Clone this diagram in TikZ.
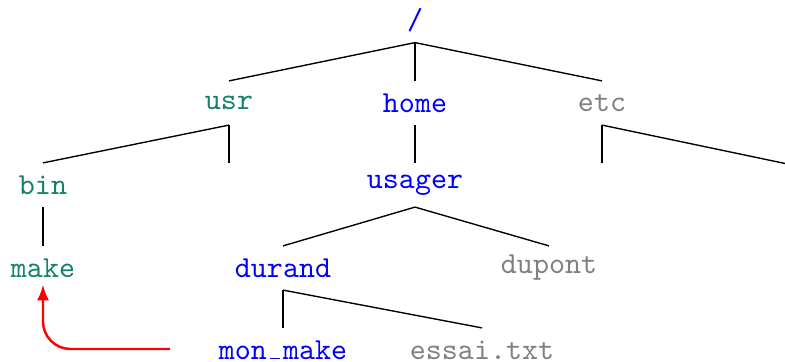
\documentclass[tikz,border=0pt]{standalone}
\usetikzlibrary{arrows.meta}
\definecolor{dirgreen}{RGB}{20,130,105}
\definecolor{dirblue}{RGB}{0,0,255}
\definecolor{dirgray}{RGB}{128,128,128}
\newcommand{\ttunder}{\makebox[0.525em]{\rule{0.3em}{0.5pt}}}
\begin{document}
\begin{tikzpicture}[x=0.328pt, y=-0.328pt,
  entry/.style={inner sep=0pt, minimum height=14.1pt, font=\ttfamily},
  sys/.style={entry, text=dirgreen},
  mine/.style={entry, text=dirblue},
  other/.style={entry, text=dirgray},
  branch/.style={black, line width=0.45pt},
  link/.style={red, line width=0.8pt, rounded corners=9pt,
    -{Latex[length=5.2pt,width=4pt]}}]
  \useasboundingbox (0,0) rectangle (785,362);

  % directory names
  \node[mine]  (root)   at (415,20.5) {/};
  \node[sys]   (usr)    at (229,103)  {usr};
  \node[mine]  (home)   at (415,103)  {home};
  \node[other] (etc)    at (602,103)  {etc};
  \node[sys]   (bin)    at (43,185)   {bin};
  \node[mine]  (usager) at (415,185)  {usager};
  \node[sys]   (make)   at (43,268)   {make};
  \node[mine]  (durand) at (283,268)  {durand};
  \node[other] (dupont) at (549,268)  {dupont};
  \node[mine]  (monmake) at (283,350) {mon\ttunder make};
  \node[other] (essai)  at (482,350)  {essai.txt};

  % unnamed sub-entries
  \coordinate (usrsub)  at (229,163.5);
  \coordinate (etcsubA) at (602,163.5);
  \coordinate (etcsubB) at (787,163.9);
  \coordinate (linksrc) at (170,349);

  % tree branches
  \draw[branch] (root.south) -- (usr.north);
  \draw[branch] (root.south) -- (home.north);
  \draw[branch] (root.south) -- (etc.north);
  \draw[branch] (usr.south) -- (bin.north);
  \draw[branch] (usr.south) -- (usrsub);
  \draw[branch] (home.south) -- (usager.north);
  \draw[branch] (etc.south) -- (etcsubA);
  \draw[branch] (etc.south) -- (etcsubB);
  \draw[branch] (bin.south) -- (make.north);
  \draw[branch] (usager.south) -- (durand.north);
  \draw[branch] (usager.south) -- (dupont.north);
  \draw[branch] (durand.south) -- (monmake.north);
  \draw[branch] (durand.south) -- (essai.north);

  % symbolic link
  \draw[link, shorten >=-1.8pt] (linksrc) -| (make.south);
\end{tikzpicture}
\end{document}
